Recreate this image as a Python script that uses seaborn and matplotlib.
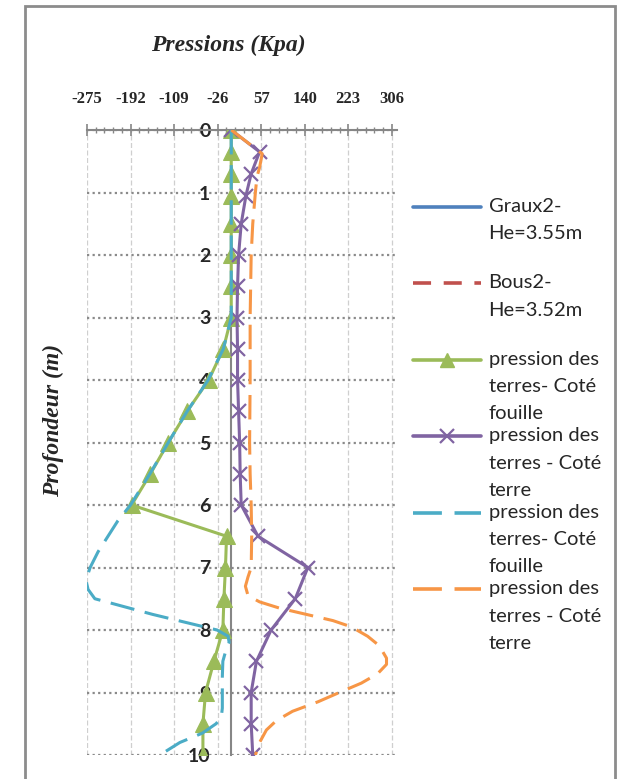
import matplotlib
matplotlib.use("Agg")
import numpy as np
import pandas as pd
import matplotlib.pyplot as plt
import seaborn as sns
from matplotlib.lines import Line2D
from matplotlib.patches import Rectangle
from matplotlib.ticker import FixedLocator

# --- data ---
x_ticks = [-275, -192, -109, -26, 57, 140, 223, 306]
depth_ticks = [0, 1, 2, 3, 4, 5, 6, 7, 8, 9, 10]

# series with markers (triangles / crosses)
depth_pts = [0, 0.35, 0.7, 1.05, 1.5, 2, 2.5, 3, 3.5, 4, 4.5, 5, 5.5, 6,
             6.5, 7, 7.5, 8, 8.5, 9, 9.5, 10]
fouille_pts = [0, 0, 0, 0, 0, 0, 0, 0, -15, -43, -84, -120, -154, -190,
               -9, -11, -14, -16, -33, -49, -54, -54]
terre_pts = [0, 54, 38, 28, 19, 14, 12, 11, 12, 12, 14, 16, 17, 19,
             51, 146, 122, 76, 48, 38, 38, 41]

# dashed series (teal = cote fouille, orange = cote terre)
fouille_d_depth = [0, 0.5, 1, 1.5, 2, 2.5, 3, 3.5, 4, 4.5, 5, 5.5, 6, 6.25,
                   6.5, 6.75, 7, 7.2, 7.35, 7.5, 7.75, 8, 8.1, 8.2, 8.35,
                   8.5, 8.75, 9, 9.25, 9.4, 9.5, 9.65, 9.8, 10]
fouille_d = [0, 0, 0, 0, 0, 0, 0, -15, -44, -84, -120, -155, -192, -216,
             -235, -254, -269, -277, -273, -260, -150, -27, -6, -4, -11,
             -16, -17, -17, -17, -19, -29, -55, -98, -136]
terre_d_depth = [0, 0.38, 0.6, 0.75, 1, 1.5, 2, 3, 4, 5, 5.5, 6, 6.5, 7,
                 7.15, 7.3, 7.45, 7.55, 7.65, 7.75, 7.85, 7.95, 8.1, 8.25,
                 8.45, 8.55, 8.7, 8.85, 9, 9.15, 9.3, 9.45, 9.6, 9.8, 10]
terre_d = [0, 59, 54, 49, 46, 41, 38, 36, 36, 35, 36, 38, 39, 38,
           32, 27, 32, 54, 92, 143, 194, 229, 260, 282,
           296, 296, 279, 248, 206, 165, 117, 86, 67, 54, 46]

legend_labels = ["Graux2-\nHe=3.55m\n ", "Bous2-\nHe=3.52m\n ",
                 "pression des\nterres- Coté\nfouille",
                 "pression des\nterres - Coté\nterre",
                 "pression des\nterres- Coté\nfouille",
                 "pression des\nterres - Coté\nterre"]

BLUE, RED, GREEN = "#4F81BD", "#C0504D", "#9BBB59"
PURPLE, TEAL, ORANGE = "#8064A2", "#4BACC6", "#F79646"
GREY = "#868686"

sns.set_style("white")
plt.rcParams['font.family'] = ['Liberation Serif', 'DejaVu Serif']

fig = plt.figure(figsize=(6.21, 7.79), dpi=100)
ax = fig.add_axes([87 / 621, 24 / 779, 310 / 621, 625 / 779])

# chart border
fig.patches.append(Rectangle((25 / 621, -0.05), 590 / 621, 1.05 - 6 / 779,
                             transform=fig.transFigure, fill=False,
                             edgecolor="#8c8c8c", lw=2))

lw = 2.2
sns.lineplot(x=fouille_pts, y=depth_pts, orient="y", sort=False,
             estimator=None, color=GREEN, lw=lw, marker="^", ms=11,
             markeredgecolor=GREEN, ax=ax, zorder=3, legend=False)
sns.lineplot(x=terre_pts, y=depth_pts, orient="y", sort=False,
             estimator=None, color=PURPLE, lw=lw, marker="x", ms=10,
             markeredgecolor=PURPLE, markeredgewidth=1.6, ax=ax, zorder=3,
             legend=False)
sns.lineplot(x=fouille_d, y=fouille_d_depth, orient="y", sort=False,
             estimator=None, color=TEAL, lw=lw, linestyle=(0, (8, 3.5)),
             ax=ax, zorder=3, legend=False)
sns.lineplot(x=terre_d, y=terre_d_depth, orient="y", sort=False,
             estimator=None, color=ORANGE, lw=lw, linestyle=(0, (8, 3.5)),
             ax=ax, zorder=3, legend=False)

ax.set_xlim(-275, 316)
ax.set_ylim(10, 0)
ax.set_xlabel("")
ax.set_ylabel("")

# axes / ticks
ax.xaxis.tick_top()
ax.set_xticks(x_ticks)
ax.set_xticklabels([str(v) for v in x_ticks])
ax.xaxis.set_minor_locator(FixedLocator(np.arange(-275, 316, 16.6)))
ax.set_yticks(depth_ticks)
ax.set_yticklabels([str(v) for v in depth_ticks])

ax.spines["left"].set_position(("data", 0))
ax.spines["right"].set_visible(False)
ax.spines["bottom"].set_visible(False)
for s in ("left", "top"):
    ax.spines[s].set_color(GREY)
    ax.spines[s].set_linewidth(1.5)

ax.tick_params(axis="x", which="major", direction="inout", length=9,
               width=1.2, color=GREY, pad=12, labelsize=12)
ax.tick_params(axis="x", which="minor", direction="inout", length=4,
               width=1, color=GREY)
ax.tick_params(axis="y", which="major", direction="inout", length=10,
               width=1.5, color=GREY, pad=10, labelsize=14)
for lbl in ax.get_xticklabels():
    lbl.set_fontweight("bold")
for lbl in ax.get_yticklabels():
    lbl.set_fontweight("bold")
    lbl.set_fontfamily(["Lato", "DejaVu Sans"])

ax.grid(axis="x", which="major", color="#cfcfcf", ls=(0, (4, 2)), lw=0.9)
ax.grid(axis="y", which="major", color="#8a8a8a", ls=(0, (1, 1.5)), lw=1.6)
ax.set_axisbelow(True)

# titles
fig.text(228 / 621, 1 - 45 / 779, "Pressions (Kpa)", ha="center",
         va="center", fontsize=17, fontweight="bold", fontstyle="italic")
fig.text(53 / 621, 1 - 420 / 779, "Profondeur (m)", ha="center",
         va="center", rotation=90, fontsize=17, fontweight="bold",
         fontstyle="italic")

# legend
handles = [
    Line2D([], [], color=BLUE, lw=lw + 0.4),
    Line2D([], [], color=RED, lw=lw + 0.4, linestyle=(0, (5, 3.5))),
    Line2D([], [], color=GREEN, lw=lw + 0.4, marker="^", ms=10),
    Line2D([], [], color=PURPLE, lw=lw + 0.4, marker="x", ms=10, mew=1.6),
    Line2D([], [], color=TEAL, lw=lw + 0.4, linestyle=(0, (8, 3.5))),
    Line2D([], [], color=ORANGE, lw=lw + 0.4, linestyle=(0, (8, 3.5))),
]
leg = fig.legend(handles, legend_labels, loc="upper left",
                 bbox_to_anchor=(413 / 621, 1 - 198 / 779), frameon=False,
                 prop={"family": ["Lato", "DejaVu Sans"], "size": 14.5},
                 handlelength=3.4, handletextpad=0.35, handleheight=1.3,
                 labelspacing=0.25, borderpad=0, borderaxespad=0)
for t in leg.get_texts():
    t.set_linespacing(1.73)
for col in leg._legend_handle_box.get_children():
    for row in col.get_children():
        row.align = "top"

fig.savefig("out.png", dpi=100)
